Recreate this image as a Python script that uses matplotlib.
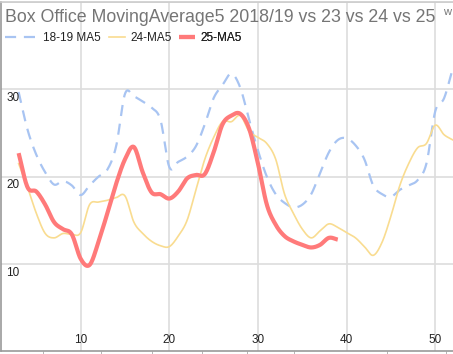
import numpy as np
import matplotlib.pyplot as plt

# weekly 5-week moving averages
weeks_1819 = list(range(3, 53))
ma5_1819 = [29.7, 25.4, 22.5, 20.5, 19.1, 19.5, 19.0, 17.9, 19.0, 20.0,
            20.8, 23.5, 29.5, 29.2, 28.6, 27.9, 26.5, 21.1, 21.7, 22.3,
            23.5, 26.0, 29.0, 30.5, 31.8, 30.2, 26.5, 23.0, 20.0, 18.0,
            17.0, 16.5, 16.8, 18.0, 20.4, 22.8, 24.2, 24.4, 23.6, 22.0,
            19.0, 18.0, 17.7, 18.5, 19.0, 19.6, 21.5, 27.5, 29.0, 32.5]

weeks_24 = list(range(3, 53))
ma5_24 = [21.5, 18.8, 15.8, 13.5, 13.0, 13.5, 13.4, 13.6, 16.8, 17.1,
          17.3, 17.6, 17.8, 14.8, 13.5, 12.6, 12.1, 12.0, 13.2, 15.0,
          18.5, 22.0, 24.5, 26.3, 26.3, 27.0, 25.2, 24.5, 23.8, 22.0,
          18.0, 15.8, 14.0, 13.0, 13.8, 14.6, 14.2, 13.6, 13.0, 12.0,
          11.0, 12.5, 15.5, 19.0, 21.5, 23.3, 23.8, 25.9, 24.8, 24.2]

weeks_25 = list(range(3, 40))
ma5_25 = [22.7, 18.8, 18.3, 16.8, 14.8, 14.0, 13.4, 10.6, 9.9, 12.5,
          15.8, 19.2, 22.0, 23.4, 20.5, 18.2, 18.0, 17.5, 18.3, 19.8,
          20.2, 20.3, 22.8, 26.0, 27.0, 27.2, 25.5, 21.5, 16.8, 14.5,
          13.2, 12.6, 12.2, 11.9, 12.2, 13.0, 12.8]

month_ticks = [5.75, 12.3, 18.0, 23.7, 28.8, 34.1, 44.5, 51.25]


def smooth(x, y, n=20):
    # Catmull-Rom curve through the weekly points (like a "function" curve)
    x = np.asarray(x, float)
    y = np.asarray(y, float)
    px = np.concatenate([[2 * x[0] - x[1]], x, [2 * x[-1] - x[-2]]])
    py = np.concatenate([[2 * y[0] - y[1]], y, [2 * y[-1] - y[-2]]])
    xs, ys = [], []
    t = np.linspace(0, 1, n, endpoint=False)
    for i in range(1, len(px) - 2):
        for arr, out in ((px, xs), (py, ys)):
            p0, p1, p2, p3 = arr[i - 1], arr[i], arr[i + 1], arr[i + 2]
            out.append(0.5 * (2 * p1 + (-p0 + p2) * t
                              + (2 * p0 - 5 * p1 + 4 * p2 - p3) * t ** 2
                              + (-p0 + 3 * p1 - 3 * p2 + p3) * t ** 3))
    xs.append([x[-1]])
    ys.append([y[-1]])
    return np.concatenate(xs), np.concatenate(ys)


plt.rcParams['font.family'] = ['Liberation Sans', 'DejaVu Sans']

fig = plt.figure(figsize=(4.53, 3.54), dpi=100)
ax = fig.add_axes([0.002, 0.0073, 0.998, 0.987])

grid_c = '#dddddd'
for v in [10, 20, 30, 40, 50]:
    ax.axvline(v, color=grid_c, lw=1.2, zorder=0)
for v in [10, 20, 30, 40]:
    ax.axhline(v, color=grid_c, lw=1.2, zorder=0)

x, y = smooth(weeks_1819, ma5_1819)
l1, = ax.plot(x, y, color='#a8c4f2', lw=1.6, dashes=(5, 3.5), label='18-19 MA5', zorder=2)
x, y = smooth(weeks_24, ma5_24)
l2, = ax.plot(x, y, color='#f9dc90', lw=1.2, label='24-MA5', zorder=3)
x, y = smooth(weeks_25, ma5_25)
l3, = ax.plot(x, y, color='#ff7a7a', lw=3.0, label='25-MA5', zorder=4, solid_capstyle='butt')

ax.set_xlim(1, 52)
ax.set_ylim(0, 40)
ax.set_xticks([])
ax.set_yticks([])
ax.set_xticks(month_ticks, minor=True)
ax.tick_params(axis='x', which='minor', direction='out', length=3, color='#aaaaaa')

ax.spines['right'].set_visible(False)
ax.spines['top'].set_color('#cccccc')
ax.spines['left'].set_color('#999999')
ax.spines['bottom'].set_color('#999999')
for s in ['left', 'bottom', 'top']:
    ax.spines[s].set_linewidth(1.2)

# tick labels drawn inside the plot area
for v in [10, 20, 30]:
    ax.text(1.6, v - 0.3, str(v), ha='left', va='top', fontsize=8.5, color='#222222')
for v in [10, 20, 30, 40, 50]:
    ax.text(v, 1.3, str(v), ha='center', va='center', fontsize=8.5, color='#222222')

ax.text(0.01, 0.955, 'Box Office MovingAverage5 2018/19 vs 23 vs 24 vs 25',
        transform=ax.transAxes, fontsize=12.8, color='#757575', va='center', ha='left')
ax.text(0.977, 0.972, 'w', transform=ax.transAxes, fontsize=8, color='#757575',
        va='center', ha='left')

# legend: one entry per legend so the dashed sample can be longer
legend_kw = dict(loc='center left', frameon=False, fontsize=8.5, handletextpad=0.5,
                 borderaxespad=0, borderpad=0, labelcolor='#222222')
entries = [(l1, 2.75, 0.009), (l2, 1.3, 0.24), (l3, 1.3, 0.395)]
for line, hl, x0 in entries:
    leg = ax.legend([line], [line.get_label()], bbox_to_anchor=(x0, 0.898),
                    handlelength=hl, **legend_kw)
    ax.add_artist(leg)

fig.savefig('out.png', dpi=100)
